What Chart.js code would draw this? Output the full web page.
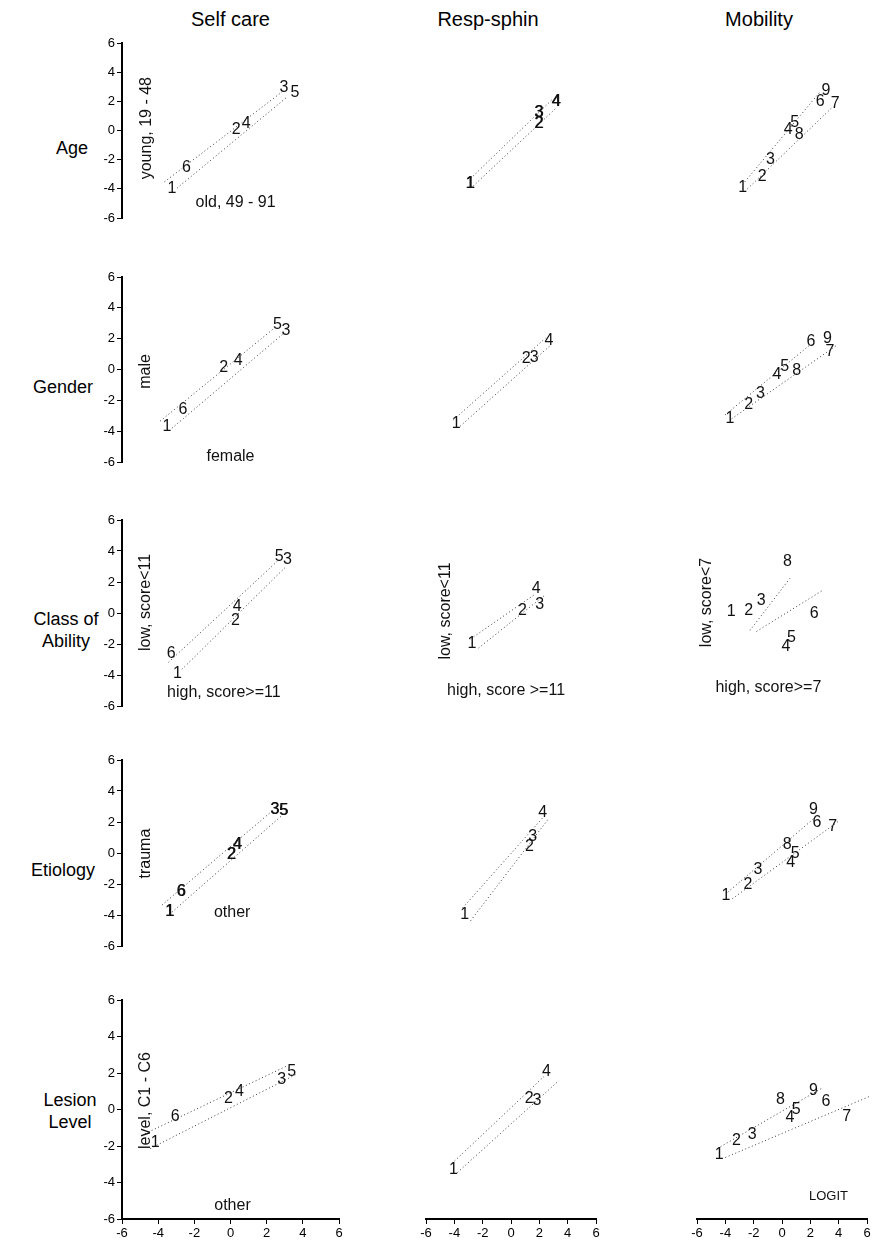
<!DOCTYPE html>
<html><head><meta charset="utf-8">
<script src="https://cdn.jsdelivr.net/npm/chart.js@4.4.0/dist/chart.umd.min.js"></script>
<style>
html,body{margin:0;padding:0;background:#fff;}
body{width:882px;height:1246px;position:relative;overflow:hidden;font-family:"Liberation Sans",Arial,sans-serif;}
canvas{position:absolute;}
.t{position:absolute;font-size:18px;color:#000;white-space:pre;transform:translate(-50%,-50%);text-align:center;line-height:22px;}
.ct{font-size:20px;}
</style></head><body>
<script>
// ---------- categories / tick labels ----------
const columnTitles = ["Self care","Resp-sphin","Mobility"];
const rowTitles = ["Age","Gender","Class of\nAbility","Etiology","Lesion\nLevel"];
const xTicks = [-6,-4,-2,0,2,4,6];
const yTicks = [-6,-4,-2,0,2,4,6];

// ---------- Age ----------
const ageSelfItems = ["1","6","2","4","3","5"];
const ageSelfX = [-3.24,-2.44,0.32,0.87,2.96,3.57];
const ageSelfY = [-3.96,-2.55,0.06,0.50,2.92,2.63];
const ageSelfBandA = [-3.65,-3.52,2.87,2.67];
const ageSelfBandB = [-2.96,-3.96,3.15,2.32];

const ageRespItems = ["1","3","2","4"];
const ageRespX = [-2.89,1.96,1.96,3.17];
const ageRespY = [-3.61,1.22,0.50,1.99];
const ageRespBandA = [-2.85,-3.29,2.89,2.11];
const ageRespBandB = [-2.67,-3.81,3.26,1.61];

const ageMobItems = ["1","2","3","4","5","8","6","9","7"];
const ageMobX = [-2.78,-1.39,-0.81,0.43,0.89,1.22,2.70,3.11,3.76];
const ageMobY = [-3.90,-3.13,-2.01,0.06,0.54,-0.27,1.99,2.76,1.84];
const ageMobBandA = [-2.63,-3.52,2.74,2.71];
const ageMobBandB = [-2.44,-4.00,3.57,1.61];

// ---------- Gender ----------
const genSelfItems = ["1","6","2","4","5","3"];
const genSelfX = [-3.52,-2.63,-0.37,0.43,2.59,3.06];
const genSelfY = [-3.72,-2.57,0.11,0.55,2.94,2.54];
const genSelfBandA = [-3.89,-3.35,2.41,2.67];
const genSelfBandB = [-3.24,-3.81,2.96,2.36];

const genRespItems = ["1","2","3","4"];
const genRespX = [-3.87,1.07,1.63,2.67];
const genRespY = [-3.54,0.70,0.79,1.90];
const genRespBandA = [-4.06,-3.26,2.43,2.03];
const genRespBandB = [-3.59,-3.68,2.80,1.58];

const genMobItems = ["1","2","3","4","5","8","6","9","7"];
const genMobX = [-3.68,-2.35,-1.52,-0.35,0.19,1.04,2.04,3.20,3.39];
const genMobY = [-3.17,-2.28,-1.55,-0.31,0.18,-0.04,1.84,2.03,1.16];
const genMobBandA = [-4.02,-2.95,2.00,1.62];
const genMobBandB = [-3.56,-3.20,3.94,1.62];

// ---------- Class of Ability ----------
const clsSelfItems = ["6","1","4","2","5","3"];
const clsSelfX = [-3.28,-2.93,0.37,0.28,2.69,3.15];
const clsSelfY = [-2.63,-3.91,0.40,-0.46,3.66,3.43];
const clsSelfBandA = [-3.43,-3.18,2.59,3.34];
const clsSelfBandB = [-2.69,-3.64,3.06,2.98];

const clsRespItems = ["1","2","4","3"];
const clsRespX = [-2.76,0.80,1.78,2.02];
const clsRespY = [-1.98,0.17,1.60,0.53];
const clsRespBandA = [-2.85,-1.67,1.68,1.20];
const clsRespBandB = [-2.29,-2.26,2.43,1.18];

const clsMobItems = ["1","2","3","8","6","5","4"];
const clsMobX = [-3.59,-2.35,-1.46,0.39,2.28,0.67,0.28];
const clsMobY = [0.07,0.18,0.83,3.29,-0.06,-1.58,-2.17];
const clsMobBandA = [-2.26,-1.12,0.56,2.24];
const clsMobBandB = [-1.80,-1.19,2.87,1.46];

// ---------- Etiology ----------
const etiSelfItems = ["1","6","2","4","3","5"];
const etiSelfX = [-3.37,-2.74,0.04,0.37,2.44,2.93];
const etiSelfY = [-3.76,-2.47,-0.08,0.55,2.82,2.73];
const etiSelfBandA = [-3.79,-3.36,2.22,2.63];
const etiSelfBandB = [-3.24,-3.82,2.87,2.45];

const etiRespItems = ["1","2","3","4"];
const etiRespX = [-3.26,1.31,1.54,2.24];
const etiRespY = [-4.00,0.42,1.07,2.63];
const etiRespBandA = [-3.41,-3.54,2.24,2.27];
const etiRespBandB = [-2.85,-4.37,2.65,2.21];

const etiMobItems = ["1","2","3","8","5","4","9","6","7"];
const etiMobX = [-3.96,-2.41,-1.70,0.37,0.93,0.61,2.22,2.46,3.57];
const etiMobY = [-2.75,-2.01,-1.05,0.55,-0.04,-0.63,2.82,1.95,1.71];
const etiMobBandA = [-3.83,-2.53,2.46,2.39];
const etiMobBandB = [-3.50,-2.95,3.94,2.02];

// ---------- Lesion Level ----------
const lesSelfItems = ["1","6","2","4","3","5"];
const lesSelfX = [-4.17,-3.06,-0.11,0.50,2.83,3.39];
const lesSelfY = [-1.81,-0.38,0.60,0.99,1.64,2.08];
const lesSelfBandA = [-4.72,-1.32,3.06,2.36];
const lesSelfBandB = [-4.44,-2.14,3.72,1.97];

const lesRespItems = ["1","2","3","4"];
const lesRespX = [-4.06,1.28,1.83,2.50];
const lesRespY = [-3.29,0.60,0.49,2.08];
const lesRespBandA = [-4.17,-2.96,2.33,1.81];
const lesRespBandB = [-3.78,-3.45,3.39,1.59];

const lesMobItems = ["1","2","3","8","4","5","9","6","7"];
const lesMobX = [-4.44,-3.22,-2.11,-0.11,0.56,1.00,2.22,3.11,4.56];
const lesMobY = [-2.47,-1.70,-1.37,0.55,-0.44,0.00,1.04,0.44,-0.38];
const lesMobBandA = [-4.56,-2.14,2.78,1.15];
const lesMobBandB = [-4.00,-2.63,6.28,0.75];

// ---------- group annotations (text, x, y, vertical) ----------
const sideNotes = [
  [["young, 19 - 48",-4.63,0.16,true],["old, 49 - 91",0.28,-4.97,false]], null, null,
  [["male",-4.67,-0.13,true],["female",0.0,-5.62,false]], null, null,
  [["low, score<11",-4.69,0.68,true],["high, score>=11",-0.37,-5.11,false]],
  [["low, score<11",-4.61,0.13,true],["high, score >=11",-0.35,-4.98,false]],
  [["low, score<7",-5.32,0.68,true],["high, score>=7",-0.96,-4.80,false]],
  [["trauma",-4.67,-0.04,true],["other",0.09,-3.86,false]], null, null,
  [["level, C1 - C6",-4.72,0.49,true],["other",0.11,-5.26,false]], null,
  [["LOGIT",3.28,-4.77,false]]
];

const panels = [
  [ageSelfItems,ageSelfX,ageSelfY,ageSelfBandA,ageSelfBandB],
  [ageRespItems,ageRespX,ageRespY,ageRespBandA,ageRespBandB],
  [ageMobItems,ageMobX,ageMobY,ageMobBandA,ageMobBandB],
  [genSelfItems,genSelfX,genSelfY,genSelfBandA,genSelfBandB],
  [genRespItems,genRespX,genRespY,genRespBandA,genRespBandB],
  [genMobItems,genMobX,genMobY,genMobBandA,genMobBandB],
  [clsSelfItems,clsSelfX,clsSelfY,clsSelfBandA,clsSelfBandB],
  [clsRespItems,clsRespX,clsRespY,clsRespBandA,clsRespBandB],
  [clsMobItems,clsMobX,clsMobY,clsMobBandA,clsMobBandB],
  [etiSelfItems,etiSelfX,etiSelfY,etiSelfBandA,etiSelfBandB],
  [etiRespItems,etiRespX,etiRespY,etiRespBandA,etiRespBandB],
  [etiMobItems,etiMobX,etiMobY,etiMobBandA,etiMobBandB],
  [lesSelfItems,lesSelfX,lesSelfY,lesSelfBandA,lesSelfBandB],
  [lesRespItems,lesRespX,lesRespY,lesRespBandA,lesRespBandB],
  [lesMobItems,lesMobX,lesMobY,lesMobBandA,lesMobBandB]
];

// ---------- layout (styles) ----------
const FONT = '"Liberation Sans", Arial, Helvetica, sans-serif';
const colL = [122,380,651], colW = [217,216,216];
const rowT = [43,277,520,760,1000], rowH = [207,217,218,218,219];
const PAD = {l:46, r:16, t:14, b:14, bx:32};
const overprint = {1:true, 9:true};

const textPlugin = {
  id:'textMarks',
  afterDatasetsDraw(chart){
    const ctx = chart.ctx;
    chart.data.datasets.forEach((ds,i)=>{
      if(!ds.texts) return;
      const meta = chart.getDatasetMeta(i);
      ctx.save();
      ctx.font = ds.textFont;
      ctx.fillStyle = '#111';
      ctx.textAlign = 'center';
      ctx.textBaseline = 'middle';
      meta.data.forEach((el,j)=>{
        const t = ds.texts[j];
        const rot = ds.rotations ? ds.rotations[j] : false;
        const draw = (dx)=>{
          if(rot){ ctx.save(); ctx.translate(el.x+dx, el.y); ctx.rotate(-Math.PI/2); ctx.fillText(t,0,0); ctx.restore(); }
          else ctx.fillText(t, el.x+dx, el.y);
        };
        draw(0);
        if(ds.overprint) draw(0.7);
      });
      ctx.restore();
    });
  }
};

// titles
columnTitles.forEach((t,c)=>{
  const d = document.createElement('div'); d.className='t ct';
  d.textContent = t; d.style.left=(colL[c]+colW[c]/2)+'px'; d.style.top='19px';
  document.body.appendChild(d);
});
const rowTitleX = [72,63,66,63,70];
rowTitles.forEach((t,r)=>{
  const d = document.createElement('div'); d.className='t';
  d.textContent = t; d.style.left=rowTitleX[r]+'px'; d.style.top=(rowT[r]+rowH[r]/2+1)+'px';
  document.body.appendChild(d);
});

panels.forEach((p,idx)=>{
  const r = Math.floor(idx/3), c = idx%3;
  const [items,xs,ys,bA,bB] = p;
  const padB = r===4 ? PAD.bx : PAD.b;
  const w = colW[c]+PAD.l+PAD.r, h = rowH[r]+PAD.t+padB;
  const cv = document.createElement('canvas');
  cv.width = w; cv.height = h;
  cv.style.left = (colL[c]-PAD.l)+'px';
  cv.style.top = (rowT[r]-PAD.t)+'px';
  cv.style.width = w+'px'; cv.style.height = h+'px';
  document.body.appendChild(cv);

  const band = (b)=>({data:[{x:b[0],y:b[1]},{x:b[2],y:b[3]}], showLine:true, clip:false,
    borderColor:'#3a3a3a', borderWidth:1, borderDash:[1,2.6], pointRadius:0, fill:false});
  const datasets = [
    band(bA), band(bB),
    {data:xs.map((x,i)=>({x:x,y:ys[i]})), pointRadius:0, clip:false, texts:items, textFont:'16px '+FONT, overprint:!!overprint[idx]}
  ];
  const notes = sideNotes[idx];
  if(notes){
    datasets.push({data:notes.map(n=>({x:n[1],y:n[2]})), pointRadius:0, clip:false, texts:notes.map(n=>n[0]),
      rotations:notes.map(n=>n[3]), textFont:(notes[0][0]==='LOGIT'?'13px ':'16px ')+FONT});
  }

  new Chart(cv, {
    type:'scatter',
    data:{datasets},
    options:{
      responsive:false, animation:false, devicePixelRatio:1,
      events:[],
      layout:{padding:{left:c===0?0:PAD.l, right:PAD.r, top:PAD.t, bottom:r===4?0:PAD.b}},
      plugins:{legend:{display:false}, tooltip:{enabled:false}},
      scales:{
        x:{type:'linear', min:-6, max:6, display:r===4,
           afterFit(s){ s.height = PAD.bx; },
           afterBuildTicks(s){ s.ticks = xTicks.map(v=>({value:v})); },
           ticks:{color:'#000', font:{size:13, family:FONT}, padding:2, maxRotation:0, autoSkip:false},
           grid:{drawOnChartArea:false, drawTicks:true, tickLength:5, color:'#000', lineWidth:1},
           border:{display:true, color:'#000', width:2}},
        y:{type:'linear', min:-6, max:6, display:c===0,
           afterFit(s){ s.width = PAD.l; },
           afterBuildTicks(s){ s.ticks = yTicks.map(v=>({value:v})); },
           ticks:{color:'#000', font:{size:13, family:FONT}, padding:2, autoSkip:false},
           grid:{drawOnChartArea:false, drawTicks:true, tickLength:5, color:'#000', lineWidth:1},
           border:{display:true, color:'#000', width:2}}
      }
    },
    plugins:[textPlugin]
  });
});
</script>
</body></html>
